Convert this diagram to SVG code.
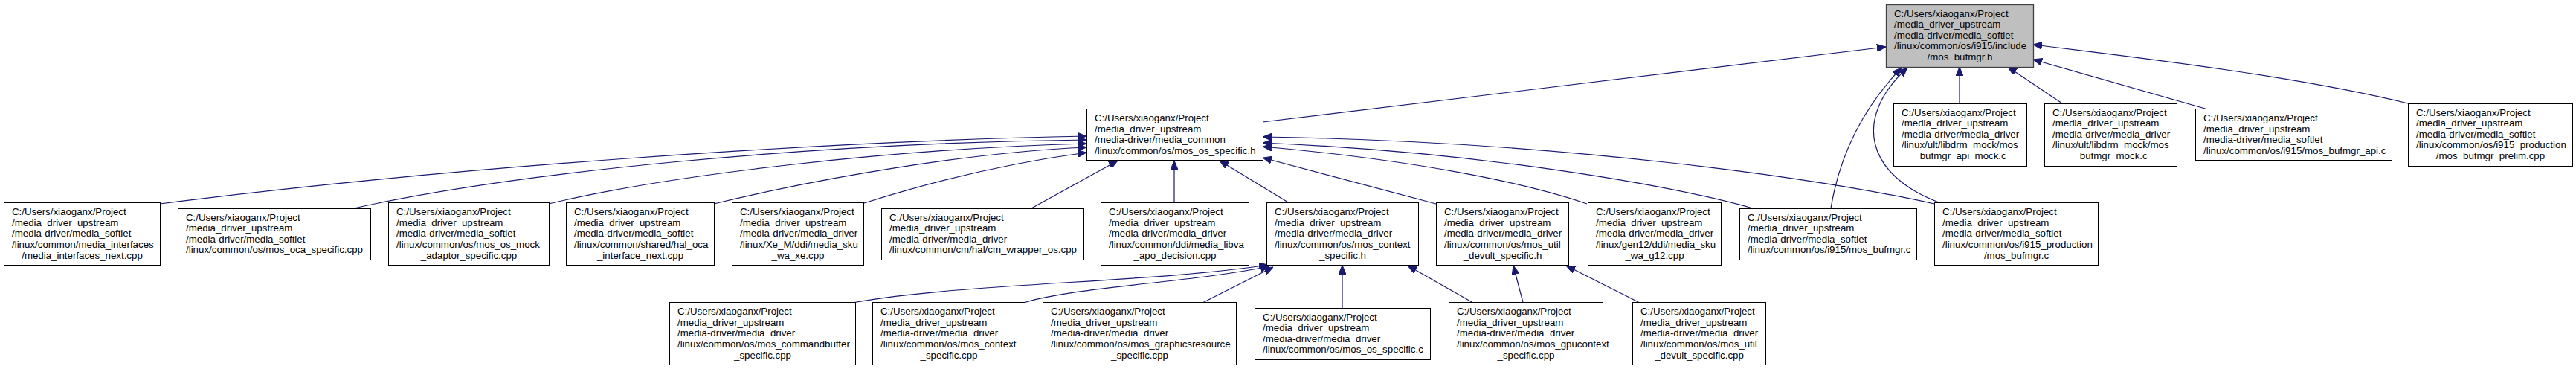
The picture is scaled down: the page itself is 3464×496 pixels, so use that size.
<svg xmlns="http://www.w3.org/2000/svg" width="3464" height="496" viewBox="0 0 3464 496">
<style>
.node rect{fill:#fff;stroke:#000;stroke-width:1}
.root rect{fill:#bfbfbf;stroke:#404040;stroke-width:1.3}
text{font-family:"Liberation Sans",Arial,Helvetica,sans-serif;font-size:13.3px;fill:#000}
.c{text-anchor:middle}
.edges path{fill:none;stroke:#191970;stroke-width:1.2;marker-end:url(#ah)}
</style>
<defs>
<marker id="ah" viewBox="0 0 12 10" refX="12" refY="5" markerWidth="12" markerHeight="10" markerUnits="userSpaceOnUse" orient="auto">
<path d="M0,0 L12,5 L0,10 z" fill="#191970" stroke="#191970" stroke-width="1"/>
</marker>
</defs>
<rect width="3464" height="496" fill="#fff"/>

<g id="edges" class="edges">
<path d="M1698,164 L2536,63"/>
<path d="M2635,139 L2635,90"/>
<path d="M2773,139 L2700,90"/>
<path d="M2967,146.5 L2734,80"/>
<path d="M3238,139 C3100,105 2900,80 2734,60"/>
<path d="M2462,280 C2475,200 2510,140 2557,91"/>
<path d="M2607,272 C2510,235 2490,160 2565,91"/>
<path d="M215,274 C600,225 1100,190 1461,183"/>
<path d="M476,280 C700,230 1100,192 1461,188"/>
<path d="M738,274 C900,235 1200,200 1461,193"/>
<path d="M960,274 C1100,240 1300,205 1461,198"/>
<path d="M1162,273 C1250,245 1350,220 1461,205"/>
<path d="M1387,280 L1503,216"/>
<path d="M1579,272.5 L1579,216"/>
<path d="M1733,272.5 L1640,216"/>
<path d="M1931,274 L1698,212"/>
<path d="M2134,274 C2050,245 1900,215 1698,197"/>
<path d="M2357,280 C2250,250 2000,205 1698,192"/>
<path d="M2601,274 C2450,240 2100,190 1698,184"/>
<path d="M1149,406.5 C1300,380 1550,380 1705,356"/>
<path d="M1378,406.5 C1450,385 1600,380 1707,358"/>
<path d="M1618,406.5 L1712,359"/>
<path d="M1805,414 L1805,356.5"/>
<path d="M1980,406.5 L1893,357"/>
<path d="M2048,406.5 L2035,357"/>
<path d="M2204,406.5 L2106,357"/>
</g>

<g id="n_root" class="node root">
<rect x="2536.5" y="6.5" width="198" height="84"/>
<text x="2547" y="22.5"><tspan>C:/Users/xiaoganx/Project</tspan><tspan x="2547" dy="14.65">/media_driver_upstream</tspan><tspan x="2547" dy="14.65">/media-driver/media_softlet</tspan><tspan x="2547" dy="14.65">/linux/common/os/i915/include</tspan></text>
<text class="c" x="2635.5" y="81.1">/mos_bufmgr.h</text>
</g>

<g id="n_mos_os_specific_h" class="node">
<rect x="1461.5" y="146.5" width="237" height="69"/>
<text x="1472" y="163"><tspan>C:/Users/xiaoganx/Project</tspan><tspan x="1472" dy="14.65">/media_driver_upstream</tspan><tspan x="1472" dy="14.65">/media-driver/media_common</tspan><tspan x="1472" dy="14.65">/linux/common/os/mos_os_specific.h</tspan></text>
</g>

<g id="n_bufmgr_api_mock" class="node">
<rect x="2546.5" y="139.5" width="179" height="84"/>
<text x="2557" y="155.5"><tspan>C:/Users/xiaoganx/Project</tspan><tspan x="2557" dy="14.65">/media_driver_upstream</tspan><tspan x="2557" dy="14.65">/media-driver/media_driver</tspan><tspan x="2557" dy="14.65">/linux/ult/libdrm_mock/mos</tspan></text>
<text class="c" x="2636" y="214.1">_bufmgr_api_mock.c</text>
</g>

<g id="n_bufmgr_mock" class="node">
<rect x="2749.5" y="139.5" width="178" height="84"/>
<text x="2760" y="155.5"><tspan>C:/Users/xiaoganx/Project</tspan><tspan x="2760" dy="14.65">/media_driver_upstream</tspan><tspan x="2760" dy="14.65">/media-driver/media_driver</tspan><tspan x="2760" dy="14.65">/linux/ult/libdrm_mock/mos</tspan></text>
<text class="c" x="2838.5" y="214.1">_bufmgr_mock.c</text>
</g>

<g id="n_bufmgr_api_c" class="node">
<rect x="2952.5" y="146.5" width="264" height="69"/>
<text x="2963" y="163"><tspan>C:/Users/xiaoganx/Project</tspan><tspan x="2963" dy="14.65">/media_driver_upstream</tspan><tspan x="2963" dy="14.65">/media-driver/media_softlet</tspan><tspan x="2963" dy="14.65">/linux/common/os/i915/mos_bufmgr_api.c</tspan></text>
</g>

<g id="n_bufmgr_prelim" class="node">
<rect x="3238.5" y="139.5" width="221" height="84"/>
<text x="3249" y="155.5"><tspan>C:/Users/xiaoganx/Project</tspan><tspan x="3249" dy="14.65">/media_driver_upstream</tspan><tspan x="3249" dy="14.65">/media-driver/media_softlet</tspan><tspan x="3249" dy="14.65">/linux/common/os/i915_production</tspan></text>
<text class="c" x="3349" y="214.1">/mos_bufmgr_prelim.cpp</text>
</g>

<g id="n_media_interfaces_next" class="node">
<rect x="5.5" y="272.5" width="210" height="84"/>
<text x="16" y="289"><tspan>C:/Users/xiaoganx/Project</tspan><tspan x="16" dy="14.65">/media_driver_upstream</tspan><tspan x="16" dy="14.65">/media-driver/media_softlet</tspan><tspan x="16" dy="14.65">/linux/common/media_interfaces</tspan></text>
<text class="c" x="110.5" y="347.6">/media_interfaces_next.cpp</text>
</g>

<g id="n_mos_oca_specific" class="node">
<rect x="239.5" y="280.5" width="259" height="69"/>
<text x="250" y="296.5"><tspan>C:/Users/xiaoganx/Project</tspan><tspan x="250" dy="14.65">/media_driver_upstream</tspan><tspan x="250" dy="14.65">/media-driver/media_softlet</tspan><tspan x="250" dy="14.65">/linux/common/os/mos_oca_specific.cpp</tspan></text>
</g>

<g id="n_mos_os_mock_adaptor" class="node">
<rect x="522.5" y="272.5" width="216" height="84"/>
<text x="533" y="289"><tspan>C:/Users/xiaoganx/Project</tspan><tspan x="533" dy="14.65">/media_driver_upstream</tspan><tspan x="533" dy="14.65">/media-driver/media_softlet</tspan><tspan x="533" dy="14.65">/linux/common/os/mos_os_mock</tspan></text>
<text class="c" x="630.5" y="347.6">_adaptor_specific.cpp</text>
</g>

<g id="n_hal_oca_interface_next" class="node">
<rect x="761.5" y="272.5" width="199" height="84"/>
<text x="772" y="289"><tspan>C:/Users/xiaoganx/Project</tspan><tspan x="772" dy="14.65">/media_driver_upstream</tspan><tspan x="772" dy="14.65">/media-driver/media_softlet</tspan><tspan x="772" dy="14.65">/linux/common/shared/hal_oca</tspan></text>
<text class="c" x="861" y="347.6">_interface_next.cpp</text>
</g>

<g id="n_media_sku_wa_xe" class="node">
<rect x="984.5" y="272.5" width="177" height="84"/>
<text x="995" y="289"><tspan>C:/Users/xiaoganx/Project</tspan><tspan x="995" dy="14.65">/media_driver_upstream</tspan><tspan x="995" dy="14.65">/media-driver/media_driver</tspan><tspan x="995" dy="14.65">/linux/Xe_M/ddi/media_sku</tspan></text>
<text class="c" x="1073" y="347.6">_wa_xe.cpp</text>
</g>

<g id="n_cm_wrapper_os" class="node">
<rect x="1185.5" y="280.5" width="272" height="69"/>
<text x="1196" y="296.5"><tspan>C:/Users/xiaoganx/Project</tspan><tspan x="1196" dy="14.65">/media_driver_upstream</tspan><tspan x="1196" dy="14.65">/media-driver/media_driver</tspan><tspan x="1196" dy="14.65">/linux/common/cm/hal/cm_wrapper_os.cpp</tspan></text>
</g>

<g id="n_media_libva_apo_decision" class="node">
<rect x="1480.5" y="272.5" width="199" height="84"/>
<text x="1491" y="289"><tspan>C:/Users/xiaoganx/Project</tspan><tspan x="1491" dy="14.65">/media_driver_upstream</tspan><tspan x="1491" dy="14.65">/media-driver/media_driver</tspan><tspan x="1491" dy="14.65">/linux/common/ddi/media_libva</tspan></text>
<text class="c" x="1580" y="347.6">_apo_decision.cpp</text>
</g>

<g id="n_mos_context_specific_h" class="node">
<rect x="1703.5" y="272.5" width="204" height="84"/>
<text x="1714" y="289"><tspan>C:/Users/xiaoganx/Project</tspan><tspan x="1714" dy="14.65">/media_driver_upstream</tspan><tspan x="1714" dy="14.65">/media-driver/media_driver</tspan><tspan x="1714" dy="14.65">/linux/common/os/mos_context</tspan></text>
<text class="c" x="1805.5" y="347.6">_specific.h</text>
</g>

<g id="n_mos_util_devult_specific_h" class="node">
<rect x="1931.5" y="272.5" width="178" height="84"/>
<text x="1942" y="289"><tspan>C:/Users/xiaoganx/Project</tspan><tspan x="1942" dy="14.65">/media_driver_upstream</tspan><tspan x="1942" dy="14.65">/media-driver/media_driver</tspan><tspan x="1942" dy="14.65">/linux/common/os/mos_util</tspan></text>
<text class="c" x="2020.5" y="347.6">_devult_specific.h</text>
</g>

<g id="n_media_sku_wa_g12" class="node">
<rect x="2135.5" y="272.5" width="179" height="84"/>
<text x="2146" y="289"><tspan>C:/Users/xiaoganx/Project</tspan><tspan x="2146" dy="14.65">/media_driver_upstream</tspan><tspan x="2146" dy="14.65">/media-driver/media_driver</tspan><tspan x="2146" dy="14.65">/linux/gen12/ddi/media_sku</tspan></text>
<text class="c" x="2225" y="347.6">_wa_g12.cpp</text>
</g>

<g id="n_i915_mos_bufmgr_c" class="node">
<rect x="2339.5" y="280.5" width="238" height="69"/>
<text x="2350" y="296.5"><tspan>C:/Users/xiaoganx/Project</tspan><tspan x="2350" dy="14.65">/media_driver_upstream</tspan><tspan x="2350" dy="14.65">/media-driver/media_softlet</tspan><tspan x="2350" dy="14.65">/linux/common/os/i915/mos_bufmgr.c</tspan></text>
</g>

<g id="n_i915_production_mos_bufmgr_c" class="node">
<rect x="2601.5" y="272.5" width="220" height="84"/>
<text x="2612" y="289"><tspan>C:/Users/xiaoganx/Project</tspan><tspan x="2612" dy="14.65">/media_driver_upstream</tspan><tspan x="2612" dy="14.65">/media-driver/media_softlet</tspan><tspan x="2612" dy="14.65">/linux/common/os/i915_production</tspan></text>
<text class="c" x="2711.5" y="347.6">/mos_bufmgr.c</text>
</g>

<g id="n_mos_commandbuffer_specific" class="node">
<rect x="900.5" y="406.5" width="250" height="84"/>
<text x="911" y="423"><tspan>C:/Users/xiaoganx/Project</tspan><tspan x="911" dy="14.65">/media_driver_upstream</tspan><tspan x="911" dy="14.65">/media-driver/media_driver</tspan><tspan x="911" dy="14.65">/linux/common/os/mos_commandbuffer</tspan></text>
<text class="c" x="1025.5" y="481.6">_specific.cpp</text>
</g>

<g id="n_mos_context_specific_cpp" class="node">
<rect x="1173.5" y="406.5" width="205" height="84"/>
<text x="1184" y="423"><tspan>C:/Users/xiaoganx/Project</tspan><tspan x="1184" dy="14.65">/media_driver_upstream</tspan><tspan x="1184" dy="14.65">/media-driver/media_driver</tspan><tspan x="1184" dy="14.65">/linux/common/os/mos_context</tspan></text>
<text class="c" x="1276" y="481.6">_specific.cpp</text>
</g>

<g id="n_mos_graphicsresource_specific" class="node">
<rect x="1402.5" y="406.5" width="260" height="84"/>
<text x="1413" y="423"><tspan>C:/Users/xiaoganx/Project</tspan><tspan x="1413" dy="14.65">/media_driver_upstream</tspan><tspan x="1413" dy="14.65">/media-driver/media_driver</tspan><tspan x="1413" dy="14.65">/linux/common/os/mos_graphicsresource</tspan></text>
<text class="c" x="1532.5" y="481.6">_specific.cpp</text>
</g>

<g id="n_mos_os_specific_c" class="node">
<rect x="1687.5" y="414.5" width="236" height="69"/>
<text x="1698" y="430.5"><tspan>C:/Users/xiaoganx/Project</tspan><tspan x="1698" dy="14.65">/media_driver_upstream</tspan><tspan x="1698" dy="14.65">/media-driver/media_driver</tspan><tspan x="1698" dy="14.65">/linux/common/os/mos_os_specific.c</tspan></text>
</g>

<g id="n_mos_gpucontext_specific" class="node">
<rect x="1948.5" y="406.5" width="207" height="84"/>
<text x="1959" y="423"><tspan>C:/Users/xiaoganx/Project</tspan><tspan x="1959" dy="14.65">/media_driver_upstream</tspan><tspan x="1959" dy="14.65">/media-driver/media_driver</tspan><tspan x="1959" dy="14.65">/linux/common/os/mos_gpucontext</tspan></text>
<text class="c" x="2052" y="481.6">_specific.cpp</text>
</g>

<g id="n_mos_util_devult_specific_cpp" class="node">
<rect x="2195.5" y="406.5" width="179" height="84"/>
<text x="2206" y="423"><tspan>C:/Users/xiaoganx/Project</tspan><tspan x="2206" dy="14.65">/media_driver_upstream</tspan><tspan x="2206" dy="14.65">/media-driver/media_driver</tspan><tspan x="2206" dy="14.65">/linux/common/os/mos_util</tspan></text>
<text class="c" x="2285" y="481.6">_devult_specific.cpp</text>
</g>
</svg>
